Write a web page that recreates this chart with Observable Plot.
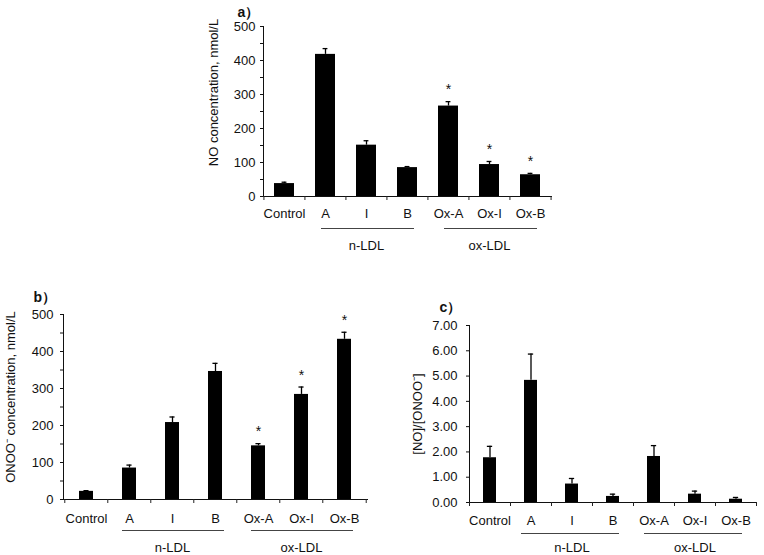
<!DOCTYPE html>
<html><head><meta charset="utf-8">
<script src="https://cdn.jsdelivr.net/npm/d3@7"></script>
<script src="https://cdn.jsdelivr.net/npm/@observablehq/plot@0.6"></script>
<style>
body{margin:0;background:#fff;}
#root{position:relative;width:764px;height:555px;overflow:hidden;background:#fff;font-family:"Liberation Sans",Arial,sans-serif;}
#root > .panel{position:absolute;}
</style></head><body><div id="root"></div>
<script>
// ---- data ----
const categories = ["Control", "A", "I", "B", "Ox-A", "Ox-I", "Ox-B"];

const noValues   = [38, 418, 151, 85, 266, 94, 64];
const noErrors   = [4, 17, 13, 3, 13, 9, 4];
const noSig      = [false, false, false, false, true, true, true];

const onooValues = [22, 85, 208, 346, 145, 284, 433];
const onooErrors = [2, 8, 15, 22, 6, 20, 19];
const onooSig    = [false, false, false, false, true, true, true];

const ratioValues = [1.77, 4.83, 0.73, 0.24, 1.82, 0.33, 0.13];
const ratioErrors = [0.45, 1.04, 0.22, 0.09, 0.43, 0.12, 0.07];
const ratioSig    = [false, false, false, false, false, false, false];

const concTicks  = [0, 50, 100, 150, 200, 250, 300, 350, 400, 450, 500];
const concLabels = [0, 100, 200, 300, 400, 500];
const ratioTicks = [0, 1, 2, 3, 4, 5, 6, 7];

const groupNames = ["n-LDL", "ox-LDL"];
const groupFrom  = ["A", "Ox-A"];
const groupTo    = ["B", "Ox-B"];
const groupMid   = ["I", "Ox-I"];

// ---- drawing ----
const root = document.getElementById("root");
const FONT = "'Liberation Sans', Arial, sans-serif";

function panel(o) {
  const rows = categories.map((c, i) => ({cat: c, value: o.values[i], top: o.values[i] + o.errors[i], sig: o.sig[i]}));
  const groups = groupNames.map((g, i) => ({name: g, from: groupFrom[i], to: groupTo[i], mid: groupMid[i]}));
  const step = (o.width - o.ml - o.mr) / categories.length;
  const bw = step * (1 - o.pad);
  const capInset = (bw - 5) / 2;
  const chart = Plot.plot({
    width: o.width, height: o.height,
    marginLeft: o.ml, marginRight: o.mr, marginTop: o.mt, marginBottom: o.mb,
    style: {fontFamily: FONT, fontSize: "13px", color: "#111", background: "transparent", overflow: "visible"},
    x: {domain: categories, paddingInner: o.pad, paddingOuter: o.pad / 2, label: null, tickSize: 0, tickPadding: o.xPad, line: true},
    y: {domain: o.yDomain, ticks: o.yTicks, tickFormat: o.yFormat, tickSize: 3, tickPadding: o.yPad, label: null, line: true},
    marks: [
      Plot.barY(rows, {x: "cat", y: "value", fill: "#000"}),
      Plot.ruleX(rows, {x: "cat", y1: "value", y2: "top", stroke: "#000", strokeWidth: 1.3}),
      Plot.tickY(rows, {x: "cat", y: "top", stroke: "#000", strokeWidth: 1.3, insetLeft: capInset, insetRight: capInset}),
      Plot.ruleX(rows, {x: "cat", y1: () => 0, y2: () => 0, insetBottom: -4, dx: -step / 2, stroke: "#222"}),
      Plot.ruleX(rows.slice(-1), {x: "cat", y1: () => 0, y2: () => 0, insetBottom: -4, dx: step / 2, stroke: "#222"}),
      Plot.text(rows.filter(d => d.sig), {x: "cat", y: "top", text: () => "*", dy: -12, fontSize: 14, fill: "#111"}),
      Plot.ruleY(groups, {x1: "from", x2: "to", y: () => 0, dy: o.ulDy, insetLeft: o.ulL, insetRight: o.ulR, stroke: "#444", strokeWidth: 1.1}),
      Plot.text(groups, {x: "mid", y: () => 0, dy: o.glDy, text: "name", fontSize: 13, fill: "#111"}),
      Plot.text([o.yLabel], {frameAnchor: "left", text: d => d, textAnchor: "middle", lineAnchor: "middle", rotate: -90, dx: o.ylDx, dy: o.ylDy, fontSize: 13, fill: "#111"}),
      Plot.text([o.letter], {frameAnchor: "top-left", text: d => d, textAnchor: "start", lineAnchor: "top", dx: o.ltDx, dy: o.ltDy, fontSize: 14, fontWeight: "bold", fill: "#111"})
    ]
  });
  const div = document.createElement("div");
  div.className = "panel";
  div.style.left = o.left + "px";
  div.style.top = o.top + "px";
  div.appendChild(chart);
  root.appendChild(div);
}

const concFormat = d => concLabels.includes(d) ? String(d) : "";

panel({
  values: noValues, errors: noErrors, sig: noSig,
  yDomain: [0, 500], yTicks: concTicks, yFormat: concFormat,
  yLabel: "NO concentration, nmol/L", letter: "a）",
  left: 200, top: 0, width: 360, height: 260, ml: 63, mr: 9, mt: 26, mb: 64,
  pad: 0.51, xPad: 12, yPad: 5, ulDy: 32, glDy: 49, ulL: 6, ulR: 3,
  ylDx: -50, ylDy: -19, ltDx: -26, ltDy: -19
});

panel({
  values: onooValues, errors: onooErrors, sig: onooSig,
  yDomain: [0, 500], yTicks: concTicks, yFormat: concFormat,
  yLabel: "ONOO\u207B concentration, nmol/L", letter: "b）",
  left: 0, top: 280, width: 380, height: 275, ml: 63, mr: 13, mt: 34, mb: 56,
  pad: 0.68, xPad: 14, yPad: 7, ulDy: 31, glDy: 48, ulL: 0, ulR: -2,
  ylDx: -53, ylDy: -10, ltDx: -30, ltDy: -22
});

panel({
  values: ratioValues, errors: ratioErrors, sig: ratioSig,
  yDomain: [0, 7], yTicks: ratioTicks, yFormat: d => d.toFixed(2),
  yLabel: "[NO]/[ONOO\u207B]", letter: "c）",
  left: 390, top: 280, width: 374, height: 275, ml: 79, mr: 8, mt: 45, mb: 53,
  pad: 0.69, xPad: 13, yPad: 9, ulDy: 31, glDy: 45, ulL: -3, ulR: 0,
  ylDx: -52, ylDy: 0, ltDx: -30, ltDy: -23
});
</script>
</body></html>
